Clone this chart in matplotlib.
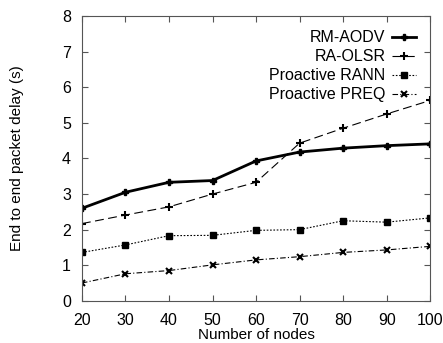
import matplotlib
matplotlib.use("Agg")
import matplotlib.pyplot as plt

plt.rcParams['font.family'] = ['Liberation Sans', 'DejaVu Sans']

nodes = [20, 30, 40, 50, 60, 70, 80, 90, 100]
rm_aodv = [2.60, 3.05, 3.33, 3.38, 3.93, 4.18, 4.29, 4.36, 4.41]
ra_olsr = [2.17, 2.41, 2.64, 3.00, 3.33, 4.43, 4.85, 5.25, 5.63]
rann = [1.36, 1.57, 1.83, 1.84, 1.98, 2.00, 2.25, 2.21, 2.33]
preq = [0.50, 0.76, 0.85, 1.01, 1.15, 1.24, 1.36, 1.43, 1.53]

fig = plt.figure(figsize=(4.43, 3.43), dpi=100)
ax = fig.add_axes([0.185, 0.123, 0.786, 0.830])

ax.plot(nodes, rm_aodv, color='black', lw=2, marker='P', ms=5, label='RM-AODV')
ax.plot(nodes, ra_olsr, color='black', lw=0.8, ls=(0, (8, 4)), marker='+', ms=6, mew=1.5, label='RA-OLSR')
ax.plot(nodes, rann, color='black', lw=0.8, ls=(0, (1.5, 1.5)), marker='s', ms=4, label='Proactive RANN')
ax.plot(nodes, preq, color='black', lw=0.8, ls=(0, (5, 2, 1, 2)), marker='x', ms=5, mew=1.5, label='Proactive PREQ')

ax.set_xlim(20, 100)
ax.set_ylim(0, 8)
ax.set_xticks(nodes)
ax.set_yticks(range(0, 9))
ax.tick_params(direction='in', top=True, right=True, labelsize=11.5, length=4, color='#555555')
ax.tick_params(axis='y', pad=8)
ax.tick_params(axis='x', pad=9)
for s in ax.spines.values():
    s.set_color('#555555')
ax.set_xlabel('Number of nodes', fontsize=11, labelpad=0)
ax.set_ylabel('End to end packet delay (s)', fontsize=11, labelpad=27)

leg = ax.legend(loc='upper right', frameon=False, markerfirst=False, fontsize=11.5,
                handlelength=1.5, handletextpad=0.4, labelspacing=0.25,
                borderaxespad=0.5)
for t in leg.get_texts():
    t.set_ha('right')

fig.savefig('out.png', dpi=100)
